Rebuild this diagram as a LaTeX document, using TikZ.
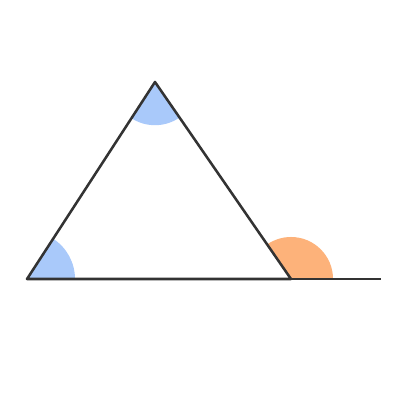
\documentclass[tikz,border=0pt]{standalone}
\usepackage{tikz}
\usetikzlibrary{positioning}
\definecolor{angblue}{HTML}{A9C9FA}
\definecolor{angorange}{HTML}{FDB27A}
\definecolor{edgegray}{HTML}{333333}
\tikzstyle{edge} = [line width=1.8pt, draw=edgegray, line join=round]
\tikzstyle{interior} = [fill=angblue]
\tikzstyle{exterior} = [fill=angorange]

\begin{document}
\begin{tikzpicture}[x=0.025cm, y=0.025cm]
                        \useasboundingbox (0,0) rectangle (400,400);
                        \coordinate (A) at (27,121);
                        \coordinate (B) at (155,318);
                        \coordinate (C) at (291,121);
                        \coordinate (D) at (381,121);
                        \fill [interior] (A) -- ++(0:1.2cm) arc [start angle=0, end angle=57, radius=1.2cm] -- cycle;
                        \fill [interior] (B) -- ++(237:1.08cm) arc [start angle=237, end angle=304.6, radius=1.08cm] -- cycle;
                        \fill [exterior] (C) -- ++(0:1.05cm) arc [start angle=0, end angle=124.6, radius=1.05cm] -- cycle;
                        \draw [edge] (A) -- (B) -- (C) -- cycle;
                        \draw [edge] (C) -- (D);
                    \end{tikzpicture}
\end{document}
